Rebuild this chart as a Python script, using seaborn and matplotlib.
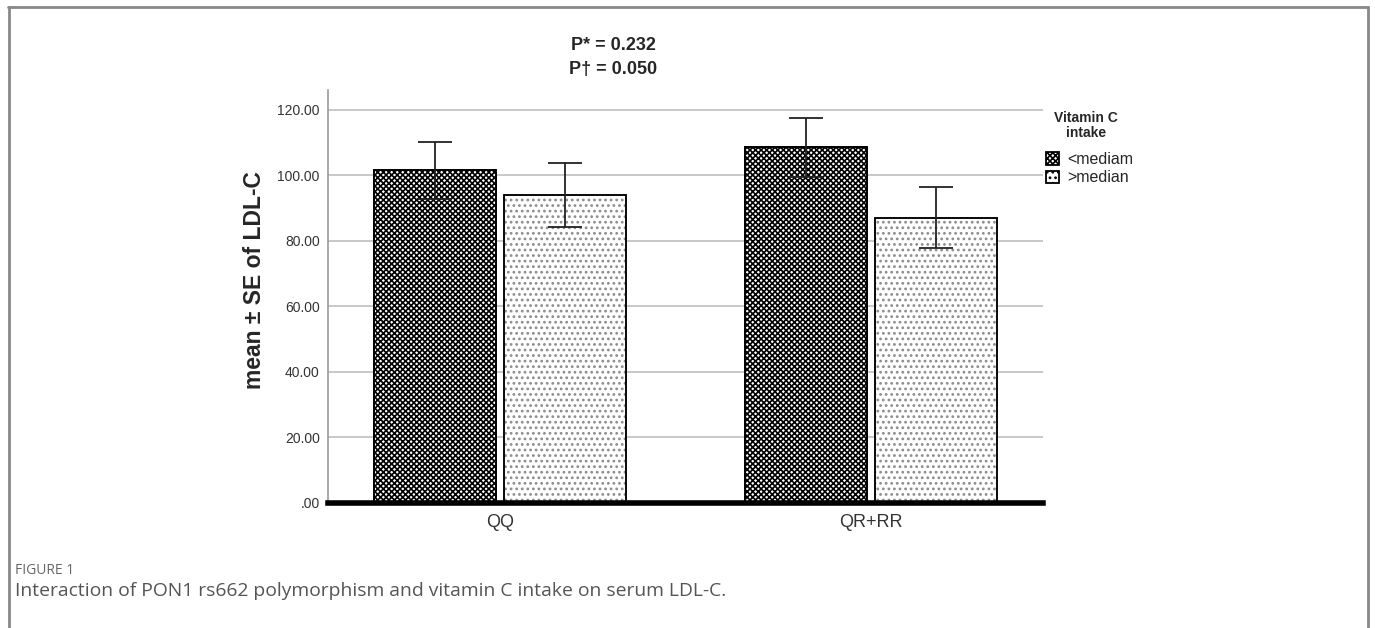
import matplotlib
matplotlib.use('Agg')
import matplotlib.pyplot as plt
from matplotlib.lines import Line2D
from matplotlib.patches import Rectangle
import pandas as pd
import seaborn as sns

sns.set_style('white')
plt.rcParams['font.family'] = ['Liberation Sans', 'DejaVu Sans']
plt.rcParams['hatch.linewidth'] = 1.2

# values
genotypes = ['QQ', 'QR+RR']
intake_levels = ['<mediam', '>median']
means_below = [101.5, 108.5]
means_above = [94.0, 87.0]
se_below = [8.7, 9.0]
se_above = [9.7, 9.3]
yticks = [0, 20, 40, 60, 80, 100, 120]
ytick_labels = ['.00', '20.00', '40.00', '60.00', '80.00', '100.00', '120.00']

df = pd.DataFrame({
    'genotype': genotypes * 2,
    'intake': [intake_levels[0]] * 2 + [intake_levels[1]] * 2,
    'mean': means_below + means_above,
    'se': se_below + se_above,
})

fig = plt.figure(figsize=(13.75, 6.28), dpi=100)
ax = fig.add_axes([328 / 1375, 1 - 503 / 628, 715 / 1375, 413 / 628])

sns.barplot(data=df, x='genotype', y='mean', hue='intake', hue_order=intake_levels,
            palette=['white', 'white'], width=0.7, gap=0.06, errorbar=None,
            linewidth=1.3, legend=False, ax=ax)

# hatch patterns (hatch colour follows the edge colour in mpl)
hatches = ['xxxxxx', '...']
hatch_colors = ['black', '#8c8c8c']
for cont, h, hc in zip(ax.containers, hatches, hatch_colors):
    for bar in cont:
        bar.set_hatch(h)
        bar.set_edgecolor(hc)
        bar.set_zorder(2)
        ax.add_patch(Rectangle(bar.get_xy(), bar.get_width(), bar.get_height(),
                               fill=False, edgecolor='black', lw=1.3, zorder=3))

# error bars (mean +/- SE)
for cont, lvl in zip(ax.containers, intake_levels):
    sub = df[df['intake'] == lvl]
    xs = [b.get_x() + b.get_width() / 2 for b in cont]
    ax.errorbar(xs, sub['mean'], yerr=sub['se'], fmt='none', ecolor='#222222',
                elinewidth=1.3, capsize=12.5, capthick=1.3, zorder=4)

ax.set_xlim(-0.464, 1.464)
ax.set_ylim(0, 126)
ax.set_yticks(yticks)
ax.set_yticklabels(ytick_labels)
ax.yaxis.grid(True, color='#c8c8c8', lw=1.4, zorder=0)
ax.set_axisbelow(True)
ax.tick_params(axis='y', length=0, labelsize=10, labelcolor='#333333', pad=6)
ax.tick_params(axis='x', length=0, labelsize=13, labelcolor='#333333', pad=8)
ax.set_xlabel('')
ax.set_ylabel('mean ± SE of LDL-C', fontsize=16.5, fontweight='bold')
ax.yaxis.set_label_coords((266 - 328) / 715, (503 - 280) / 413)
for s in ['top', 'right']:
    ax.spines[s].set_visible(False)
ax.spines['left'].set_color('#9a9a9a')
ax.spines['left'].set_linewidth(1.2)
ax.spines['bottom'].set_color('black')
ax.spines['bottom'].set_linewidth(4)
ax.spines['bottom'].set_zorder(5)

# legend: title as separate text so the gap matches
fig.text(1086 / 1375, 1 - 118 / 628, 'Vitamin C', ha='center', va='center',
         fontsize=10, fontweight='bold')
fig.text(1086 / 1375, 1 - 133 / 628, 'intake', ha='center', va='center',
         fontsize=10, fontweight='bold')
handles = [ax.containers[0][0], ax.containers[1][0]]
leg = fig.legend(handles, intake_levels, loc='upper left',
                 bbox_to_anchor=(1046 / 1375, 1 - 152 / 628), frameon=False,
                 fontsize=11.5, handlelength=0.8, handleheight=0.8, handletextpad=0.5,
                 labelspacing=0.2, borderpad=0, borderaxespad=0)
for h in leg.legend_handles:
    h.set_edgecolor('black')

fig.text(613 / 1375, 1 - 45 / 628, 'P* = 0.232', ha='center', va='center',
         fontsize=13, fontweight='bold')
fig.text(613 / 1375, 1 - 70 / 628, 'P† = 0.050', ha='center', va='center',
         fontsize=13, fontweight='bold')

# caption
fig.text(15 / 1375, 1 - 571 / 628, 'FIGURE 1', ha='left', va='center',
         fontsize=10, color='#666666', family=['Open Sans', 'DejaVu Sans'])
fig.text(15 / 1375, 1 - 591 / 628,
         'Interaction of PON1 rs662 polymorphism and vitamin C intake on serum LDL-C.',
         ha='left', va='center', fontsize=13.9, color='#555555',
         family=['Open Sans', 'DejaVu Sans'])

# frame around the figure panel
fig.add_artist(Line2D([8 / 1375, 1368 / 1375], [1 - 7 / 628, 1 - 7 / 628],
                      transform=fig.transFigure, color='#888888', lw=2))
fig.add_artist(Line2D([8.5 / 1375, 8.5 / 1375], [0, 1 - 7 / 628],
                      transform=fig.transFigure, color='#888888', lw=2))
fig.add_artist(Line2D([1368 / 1375, 1368 / 1375], [0, 1 - 7 / 628],
                      transform=fig.transFigure, color='#888888', lw=2))

fig.savefig('out.png', dpi=100, facecolor='white')
